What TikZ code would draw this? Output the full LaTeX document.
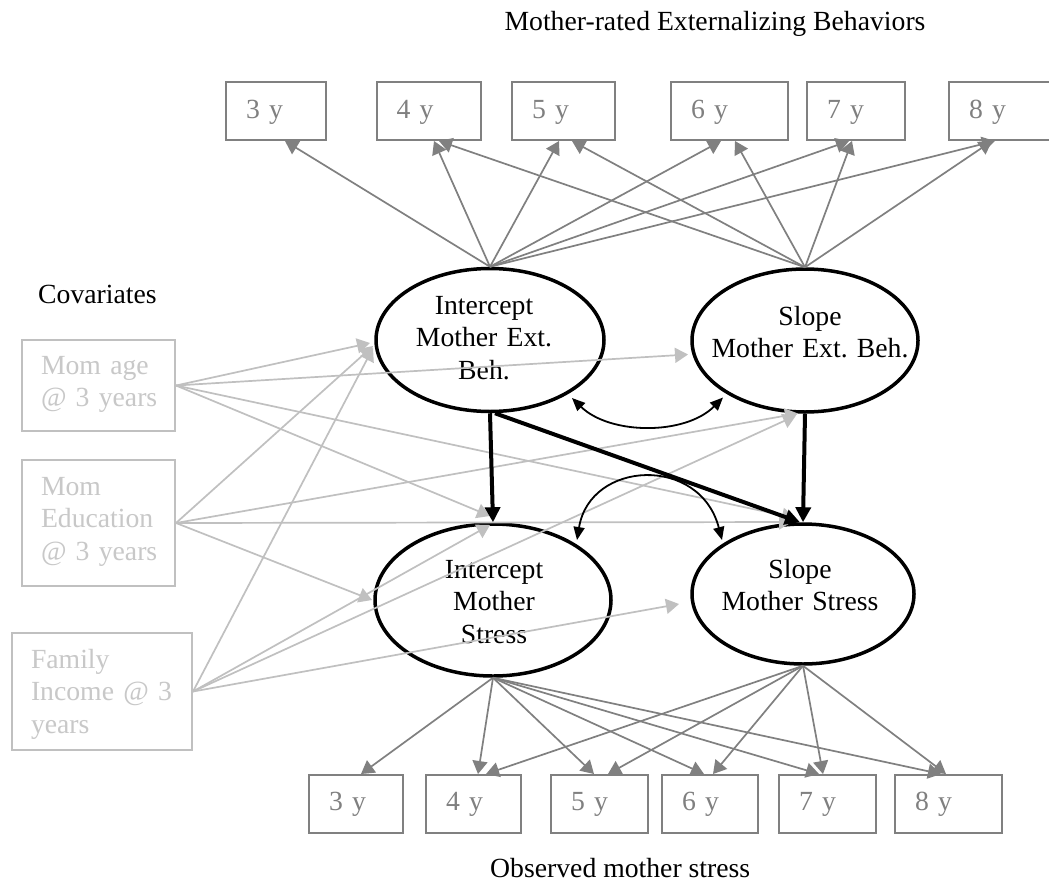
\documentclass[tikz,border=0pt]{standalone}
\usepackage{fontspec}
\setmainfont{Liberation Serif}
\usetikzlibrary{arrows.meta,calc,shapes.geometric}
\definecolor{midgray}{RGB}{128,128,128}
\definecolor{covline}{RGB}{192,192,192}
\definecolor{covtext}{RGB}{200,200,200}
\frenchspacing
\begin{document}
\begin{tikzpicture}[x=1pt,y=-1pt,
  txt/.style={font=\fontsize{27.7}{32.5}\selectfont\frenchspacing},
  obsbox/.style={draw=midgray, line width=2pt, text=midgray, txt, anchor=north west,
    inner xsep=20pt, inner ysep=0pt, align=left},
  topbox/.style={obsbox, text height=36pt, text depth=22pt},
  botbox/.style={obsbox, text height=35pt, text depth=23pt},
  covbox/.style={draw=covline, line width=2pt, text=covtext, txt, anchor=north west,
    inner xsep=19pt, inner ysep=0pt, align=left},
  latent/.style={ellipse, draw=black, line width=3.5pt, inner sep=0pt},
  lattext/.style={txt, align=center, anchor=base, text width=240pt, inner sep=0pt},
  loading/.style={draw=midgray, line width=1.7pt, -{Triangle[length=13pt,width=15pt]}},
  covpath/.style={draw=covline, line width=1.7pt, -{Triangle[length=13pt,width=15pt]}},
  regpath/.style={draw=black, line width=4pt, -{Triangle[length=15pt,width=15pt]}},
  corpath/.style={draw=black, line width=1.8pt, {Triangle[length=13pt,width=11pt]}-{Triangle[length=13pt,width=11pt]}},
  label/.style={txt, inner sep=0pt}
]
\fill[white] (0,0) rectangle (1049,886);
\useasboundingbox (0,0) rectangle (1049,886);

% titles
\node[label, anchor=base] (ttop) at (715,30) {Mother-rated Externalizing Behaviors};
\node[label, anchor=base west] (tbot) at (490,877) {Observed mother stress};
\node[label, anchor=base west] (tcov) at (38,303) {Covariates};

% top observed boxes
\node[topbox, text width=60pt]   (t3) at (225,81)   {3 y};
\node[topbox, text width=64.5pt] (t4) at (375.5,81) {4 y};
\node[topbox, text width=63pt]   (t5) at (511,81)   {5 y};
\node[topbox, text width=77pt]   (t6) at (670,81)   {6 y};
\node[topbox, text width=58pt]   (t7) at (806,81)   {7 y};
\node[topbox, text width=63pt]   (t8) at (948,81)   {8 y};

% bottom observed boxes
\node[botbox, text width=54pt]   (b3) at (308,774) {3 y};
\node[botbox, text width=55pt]   (b4) at (425,774) {4 y};
\node[botbox, text width=57pt]   (b5) at (550,774) {5 y};
\node[botbox, text width=56pt]   (b6) at (661,774) {6 y};
\node[botbox, text width=57pt]   (b7) at (778,774) {7 y};
\node[botbox, text width=67pt]   (b8) at (894,774) {8 y};

% covariate boxes
\node[covbox, text width=115pt, text height=34pt, text depth=57pt] (cage) at (21,339)
  {\mbox{Mom age}\\\mbox{@ 3 years}};
\node[covbox, text width=115pt, text height=35pt, text depth=91pt] (cedu) at (21,459)
  {\mbox{Mom}\\\mbox{Education}\\\mbox{@ 3 years}};
\node[covbox, text width=142pt, text height=35pt, text depth=82pt] (cinc) at (11,632)
  {\mbox{Family}\\\mbox{Income @ 3}\\\mbox{years}};

% latent ellipses
\node[latent, minimum width=228pt, minimum height=143pt] (IE) at (490,340) {};
\node[latent, minimum width=226pt, minimum height=143pt] (SE) at (805,340.5) {};
\node[latent, minimum width=236pt, minimum height=152pt] (IS) at (493,600) {};
\node[latent, minimum width=222pt, minimum height=140pt] (SS) at (803,594) {};

\node[lattext] (IEt) at (484,314) {Intercept\\Mother Ext.\\Beh.};
\node[lattext] (SEt) at (810,325) {Slope\\Mother Ext. Beh.};
\node[lattext] (ISt) at (494,578) {Intercept\\Mother\\Stress};
\node[lattext] (SSt) at (800,578) {Slope\\Mother Stress};

% loadings, top
\draw[loading] (IE.north) -- ($(t3.south west)+(60,0)$);
\draw[loading] (IE.north) -- ($(t4.south west)+(58.5,0)$);
\draw[loading] (IE.north) -- ($(t5.south west)+(48,0)$);
\draw[loading] (IE.north) -- ($(t6.south west)+(51,0)$);
\draw[loading] (IE.north) -- ($(t7.south west)+(43,0)$);
\draw[loading] (IE.north) -- ($(t8.south west)+(47,0)$);
\draw[loading] (SE.north) -- ($(t4.south west)+(63.5,0)$);
\draw[loading] (SE.north) -- ($(t5.south west)+(61,0)$);
\draw[loading] (SE.north) -- ($(t6.south west)+(65,0)$);
\draw[loading] (SE.north) -- ($(t7.south west)+(46,0)$);
\draw[loading] (SE.north) -- ($(t8.south west)+(44,0)$);

% loadings, bottom
\draw[loading] (IS.south) -- ($(b3.north west)+(53,0)$);
\draw[loading] (IS.south) -- ($(b4.north west)+(53,0)$);
\draw[loading] (IS.south) -- ($(b5.north west)+(44,0)$);
\draw[loading] (IS.south) -- ($(b6.north west)+(43,0)$);
\draw[loading] (IS.south) -- ($(b7.north west)+(41,0)$);
\draw[loading] (IS.south) -- ($(b8.north west)+(47,0)$);
\draw[loading] (SS.south) -- ($(b4.north west)+(61,0)$);
\draw[loading] (SS.south) -- ($(b5.north west)+(58,0)$);
\draw[loading] (SS.south) -- ($(b6.north west)+(52,0)$);
\draw[loading] (SS.south) -- ($(b7.north west)+(45,0)$);
\draw[loading] (SS.south) -- ($(b8.north west)+(52,0)$);

% covariates
\draw[covpath] (cage.east) -- ($(IE.center)+(-120,3)$);
\draw[covpath] (cage.east) -- ($(SE.center)+(-117,14)$);
\draw[covpath] (cage.east) -- ($(IS.center)+(-3,-84)$);
\draw[covpath] (cage.east) -- ($(SS.center)+(-8,-76)$);
\draw[covpath] (cedu.east) -- ($(IE.center)+(-117,6)$);
\draw[covpath] (cedu.east) -- ($(SE.center)+(-7,73)$);
\draw[covpath] (cedu.east) -- ($(IS.center)+(-121,0)$);
\draw[covpath] (cedu.east) -- ($(SS.center)+(-11,-72)$);
\draw[covpath] (cinc.east) -- ($(IE.center)+(-117,8)$);
\draw[covpath] (cinc.east) -- ($(SE.center)+(-9,75)$);
\draw[covpath] (cinc.east) -- ($(IS.center)+(-3,-75)$);
\draw[covpath] (cinc.east) -- ($(SS.center)+(-124,10)$);

% regressions
\draw[regpath] (IE.south) -- (IS.north);
\draw[regpath] ($(IE.south)+(5,0)$) -- ($(SS.north)+(-3,0)$);
\draw[regpath] (SE.south) -- (SS.north);

% correlations
\coordinate (c1a) at ($(IE.center)+(82,58)$);
\coordinate (c1b) at ($(SE.center)+(-82,57)$);
\draw[corpath] (c1a) .. controls ($(c1a)+(38,37)$) and ($(c1b)+(-38,38)$) .. (c1b);
\coordinate (c2a) at ($(IS.center)+(84,-60)$);
\coordinate (c2b) at ($(SS.center)+(-81,-54)$);
\draw[corpath] (c2a) .. controls ($(c2a)+(13,-80)$) and ($(c2b)+(-22,-85)$) .. (c2b);
\end{tikzpicture}
\end{document}
